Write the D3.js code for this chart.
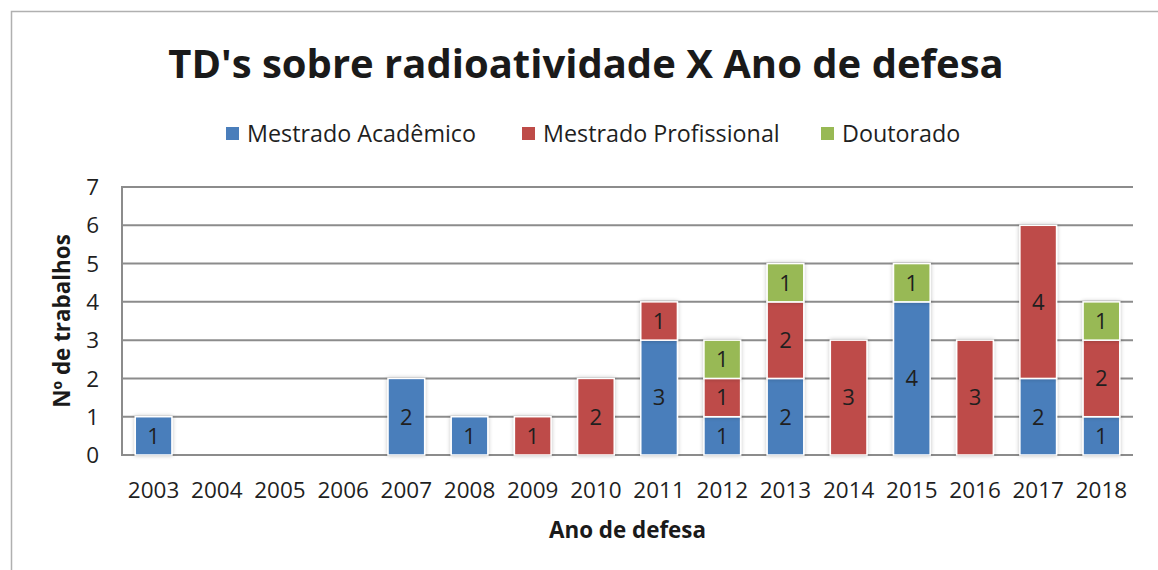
<!DOCTYPE html>
<html>
<head>
<meta charset="utf-8">
<script src="https://cdn.jsdelivr.net/npm/d3@7"></script>
<style>
  body { margin: 0; background: #fff; }
  svg { display: block; font-family: "Open Sans", sans-serif; }
</style>
</head>
<body>
<svg id="chart" width="1158" height="570"></svg>
<script>
'use strict';

// data
const years = ['2003','2004','2005','2006','2007','2008','2009','2010','2011','2012','2013','2014','2015','2016','2017','2018'];
const mestradoAcademico   = [1,0,0,0,2,1,0,0,3,1,2,0,4,0,2,1];
const mestradoProfissional = [0,0,0,0,0,0,1,2,1,1,2,3,0,3,4,2];
const doutorado           = [0,0,0,0,0,0,0,0,0,1,1,0,1,0,0,1];
const seriesNames = ['Mestrado Acadêmico', 'Mestrado Profissional', 'Doutorado'];
const yTicks = [0,1,2,3,4,5,6,7];

const colors = ['#4a7ebb', '#be4b48', '#98b954'];

const svg = d3.select('#chart');

// outer frame of the chart object
svg.append('path')
    .attr('d', 'M11.5,575 L11.5,11.5 L1165,11.5')
    .attr('fill', 'none')
    .attr('stroke', '#b0b0b0')
    .attr('stroke-width', 1.5);

// plot area
const plot = { left: 122, right: 1133, top: 187, bottom: 455 };

const x = d3.scaleBand()
    .domain(years)
    .range([plot.left, plot.right])
    .paddingInner(0.42)
    .paddingOuter(0.21);

const y = d3.scaleLinear()
    .domain([0, 7])
    .range([plot.bottom, plot.top]);

// gridlines
svg.append('g')
    .selectAll('line')
    .data(yTicks)
    .enter()
    .append('line')
    .attr('x1', plot.left)
    .attr('x2', plot.right)
    .attr('y1', d => y(d))
    .attr('y2', d => y(d))
    .attr('stroke', '#8c8c8c')
    .attr('stroke-width', 2);

// left axis line
svg.append('line')
    .attr('x1', plot.left).attr('x2', plot.left)
    .attr('y1', plot.top - 1).attr('y2', plot.bottom + 1)
    .attr('stroke', '#8c8c8c')
    .attr('stroke-width', 2);

// stack the series
const rows = years.map((yr, i) => ({
    year: yr,
    s0: mestradoAcademico[i],
    s1: mestradoProfissional[i],
    s2: doutorado[i]
}));
const stacked = d3.stack().keys(['s0','s1','s2'])(rows);

// soft shadow for bars
const defs = svg.append('defs');
const filt = defs.append('filter').attr('id', 'shadow')
    .attr('x', '-30%').attr('y', '-30%').attr('width', '160%').attr('height', '160%');
filt.append('feGaussianBlur').attr('in', 'SourceAlpha').attr('stdDeviation', 2).attr('result', 'blur');
filt.append('feComponentTransfer').append('feFuncA').attr('type', 'linear').attr('slope', 0.25);
const merge = filt.append('feMerge');
merge.append('feMergeNode');
merge.append('feMergeNode').attr('in', 'SourceGraphic');

const barsG = svg.append('g');
stacked.forEach((layer, si) => {
    const segs = layer.filter(d => d[1] - d[0] > 0);
    barsG.selectAll('rect.s' + si)
        .data(segs)
        .enter()
        .append('rect')
        .attr('class', 's' + si)
        .attr('x', d => x(d.data.year))
        .attr('y', d => y(d[1]))
        .attr('width', x.bandwidth())
        .attr('height', d => y(d[0]) - y(d[1]))
        .attr('fill', colors[si])
        .attr('stroke', '#fff')
        .attr('stroke-width', 1.5)
        .attr('filter', 'url(#shadow)');

    barsG.selectAll('text.s' + si)
        .data(segs)
        .enter()
        .append('text')
        .attr('class', 's' + si)
        .attr('x', d => x(d.data.year) + x.bandwidth() / 2)
        .attr('y', d => (y(d[0]) + y(d[1])) / 2)
        .attr('dy', '0.36em')
        .attr('text-anchor', 'middle')
        .attr('font-size', 22)
        .attr('fill', '#1f1f1f')
        .text(d => d[1] - d[0]);
});

// y tick labels
svg.append('g')
    .selectAll('text')
    .data(yTicks)
    .enter()
    .append('text')
    .attr('x', 99)
    .attr('y', d => y(d))
    .attr('dy', '0.36em')
    .attr('text-anchor', 'end')
    .attr('font-size', 22.5)
    .attr('fill', '#1f1f1f')
    .text(d => d);

// x tick labels
svg.append('g')
    .selectAll('text')
    .data(years)
    .enter()
    .append('text')
    .attr('x', d => x(d) + x.bandwidth() / 2)
    .attr('y', 498)
    .attr('text-anchor', 'middle')
    .attr('font-size', 22.5)
    .attr('fill', '#1f1f1f')
    .text(d => d);

// title
svg.append('text')
    .attr('x', 586)
    .attr('y', 78)
    .attr('text-anchor', 'middle')
    .attr('font-size', 40)
    .attr('font-weight', 'bold')
    .attr('fill', '#1a1a1a')
    .text("TD's sobre radioatividade X Ano de defesa");

// axis titles
svg.append('text')
    .attr('x', (plot.left + plot.right) / 2)
    .attr('y', 538)
    .attr('text-anchor', 'middle')
    .attr('font-size', 22.4)
    .attr('font-weight', 'bold')
    .attr('fill', '#1a1a1a')
    .text('Ano de defesa');

svg.append('text')
    .attr('transform', 'translate(70,' + ((plot.top + plot.bottom) / 2) + ') rotate(-90)')
    .attr('text-anchor', 'middle')
    .attr('font-size', 22.4)
    .attr('font-weight', 'bold')
    .attr('fill', '#1a1a1a')
    .text('Nº de trabalhos');

// legend
const legendX = [226, 522, 821];
const legend = svg.append('g')
    .selectAll('g')
    .data(seriesNames)
    .enter()
    .append('g')
    .attr('transform', (d, i) => 'translate(' + legendX[i] + ',127)');
legend.append('rect')
    .attr('width', 13)
    .attr('height', 13)
    .attr('fill', (d, i) => colors[i]);
legend.append('text')
    .attr('x', 21)
    .attr('y', 6.5)
    .attr('dy', '0.36em')
    .attr('font-size', 23.3)
    .attr('fill', '#1f1f1f')
    .text(d => d);
</script>
</body>
</html>
